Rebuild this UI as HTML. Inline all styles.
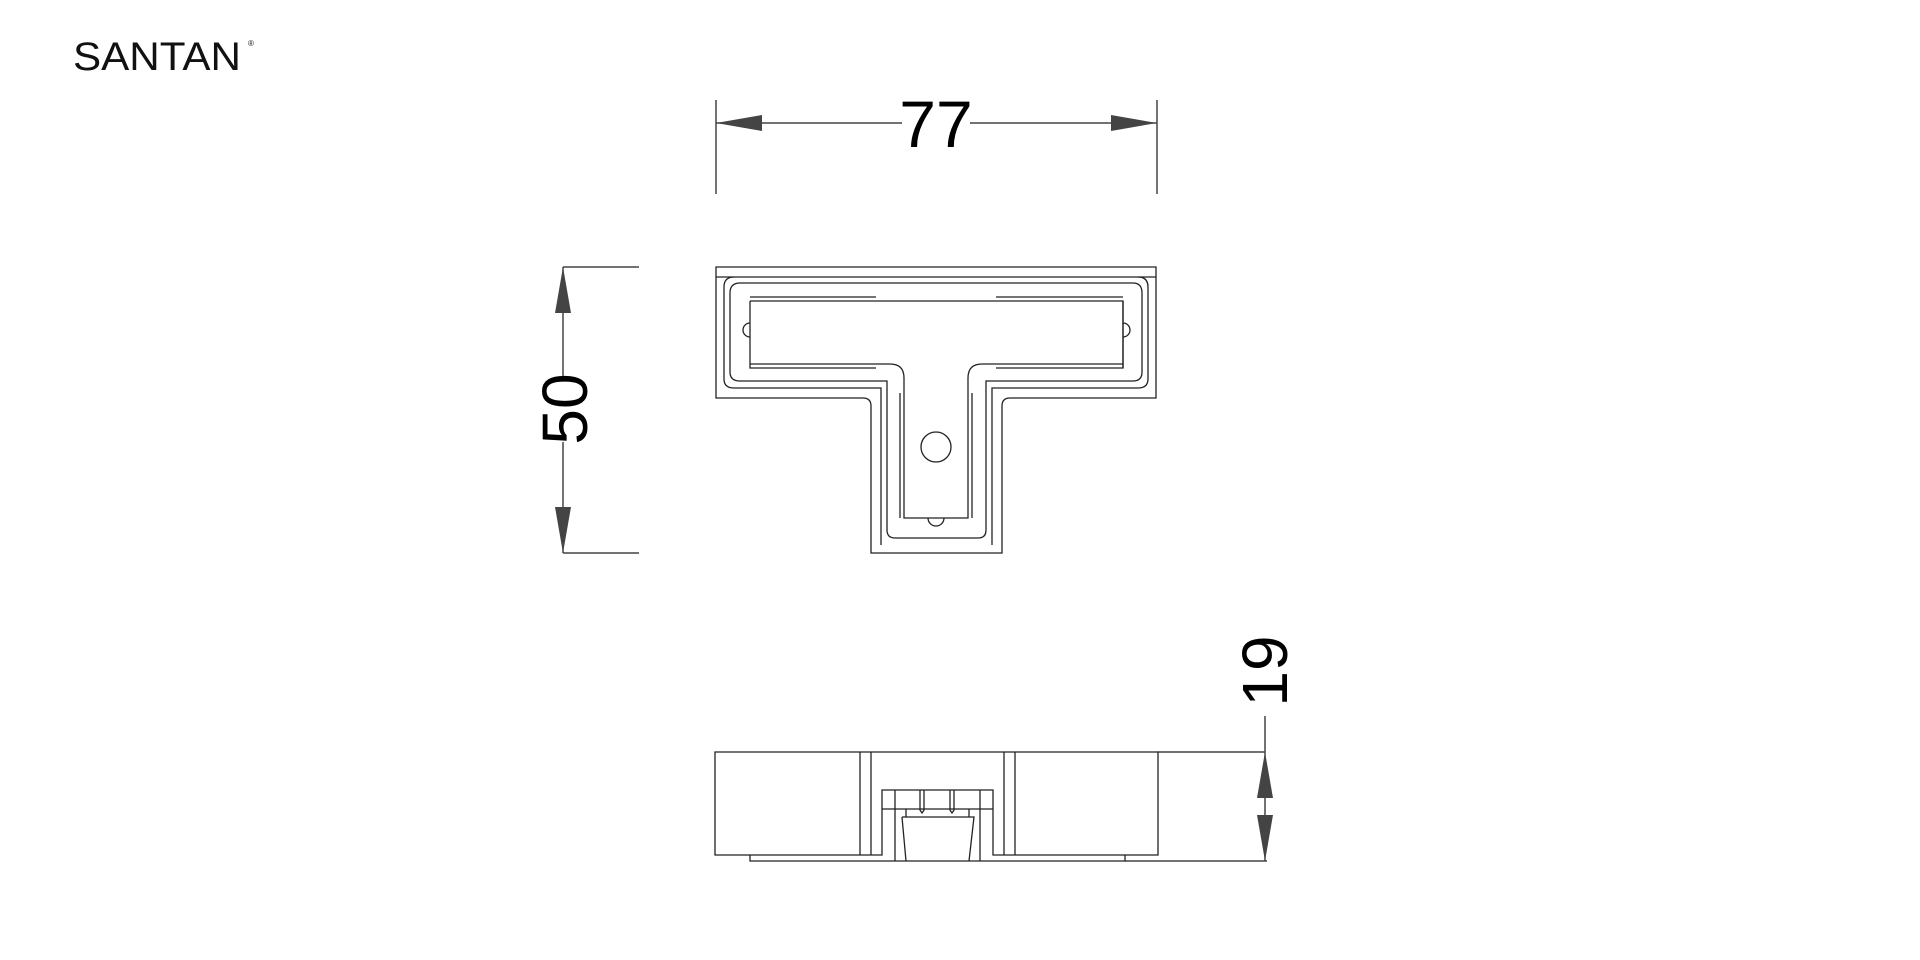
<!DOCTYPE html>
<html><head><meta charset="utf-8"><style>
html,body{margin:0;padding:0;background:#fff;width:1920px;height:960px;overflow:hidden}
svg{display:block}
</style></head><body>
<svg width="1920" height="960" viewBox="0 0 1920 960" xmlns="http://www.w3.org/2000/svg">
<text x="73" y="70" font-family="Liberation Sans, sans-serif" font-size="40" textLength="168" lengthAdjust="spacingAndGlyphs" fill="#111" style="font-weight:300">SANTAN</text>
<text x="248" y="46" font-family="Liberation Sans, sans-serif" font-size="8" fill="#111">®</text>

<g stroke="#444" stroke-width="1.5" fill="none">
<line x1="716" y1="100" x2="716" y2="194"/>
<line x1="1157" y1="100" x2="1157" y2="194"/>
<line x1="716" y1="123" x2="902" y2="123"/>
<line x1="970" y1="123" x2="1157" y2="123"/>
<line x1="563" y1="267" x2="639" y2="267"/>
<line x1="563" y1="553" x2="639" y2="553"/>
<line x1="563" y1="267" x2="563" y2="376"/>
<line x1="563" y1="442" x2="563" y2="553"/>
<line x1="1265" y1="716" x2="1265" y2="861"/>
<line x1="1158" y1="752" x2="1265" y2="752"/>
<line x1="1125" y1="861" x2="1267" y2="861"/>
</g>
<g fill="#444">
<polygon points="716,123 762,115 762,131"/>
<polygon points="1157,123 1111,115 1111,131"/>
<polygon points="563,267 555,313 571,313"/>
<polygon points="563,553 555,507 571,507"/>
<polygon points="1265,752 1257,798 1273,798"/>
<polygon points="1265,861 1257,815 1273,815"/>
</g>
<text x="936" y="147" text-anchor="middle" font-family="Liberation Sans, sans-serif" font-size="66" fill="#000">77</text>
<text transform="translate(587,409) rotate(-90)" text-anchor="middle" font-family="Liberation Sans, sans-serif" font-size="64" fill="#000">50</text>
<text transform="translate(1287,671) rotate(-90)" text-anchor="middle" font-family="Liberation Sans, sans-serif" font-size="64" fill="#000">19</text>

<g stroke="#222" stroke-width="1.3" fill="none">
<path d="M716,267 H1156 V398 H1010 Q1002,398 1002,406 V553 H871 V406 Q871,398 863,398 H716 Z"/>
<line x1="716" y1="277" x2="1156" y2="277"/>
<path d="M734,277 Q724,277 724,287 V379 Q724,388 734,388 H881 V545 M992,545 V388 H1138 Q1148,388 1148,379 V287 Q1148,277 1138,277"/>
<path d="M740,283 Q730,283 730,293 V372 Q730,381 740,381 H887 V530 Q887,538 895,538 H978 Q986,538 986,530 V381 H1133 Q1142,381 1142,372 V293 Q1142,283 1133,283 Z"/>
<path d="M750,297 H876 M996,297 H1123"/>
<path d="M750,301 V368 H876 M1123,301 V368 H996"/>
<path d="M750,301 H1123 V368"/>
<path d="M876,364 H890 Q904,364 904,378 V518 H968 V378 Q968,364 982,364 H996"/>
<line x1="750" y1="364" x2="876" y2="364"/><line x1="996" y1="364" x2="1123" y2="364"/>
<line x1="900" y1="393" x2="900" y2="518"/><line x1="972" y1="393" x2="972" y2="518"/>
<circle cx="936" cy="447" r="15"/>
<path d="M928,518 A8,8 0 0 0 944,518"/>
<path d="M750,323 A7,7 0 1 0 750,337"/>
<path d="M1123,323 A7,7 0 1 1 1123,337"/>
</g>

<g stroke="#222" stroke-width="1.3" fill="none">
<path d="M715,752 H1158 V855 H993 V790 H882 V855 H715 Z"/>
<path d="M750,855 V861 H1125 V855"/>
<line x1="860" y1="752" x2="860" y2="855"/><line x1="871" y1="752" x2="871" y2="855"/>
<line x1="1004" y1="752" x2="1004" y2="855"/><line x1="1015" y1="752" x2="1015" y2="855"/>
<line x1="882" y1="809" x2="993" y2="809"/>
<line x1="895" y1="790" x2="895" y2="861"/><line x1="980" y1="790" x2="980" y2="861"/>
<line x1="906" y1="809" x2="906" y2="817"/><line x1="969" y1="809" x2="969" y2="817"/>
<path d="M902,817 H974 L969,861 M902,817 L906,861"/>
<path d="M920,790 V810 L922,813 L924,810 V790"/>
<path d="M950,790 V810 L952,813 L954,810 V790"/>
</g>
</svg>
</body></html>
